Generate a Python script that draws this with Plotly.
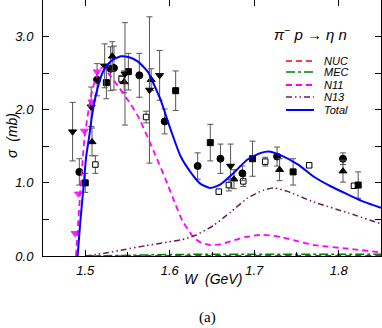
import plotly.graph_objects as go

# model curves (W in GeV, sigma in mb)
w_total = [1.491, 1.494, 1.498, 1.501, 1.505, 1.508, 1.514, 1.521, 1.530, 1.542, 1.551,
           1.562, 1.574, 1.583, 1.589, 1.601, 1.613, 1.625, 1.636, 1.648, 1.660, 1.676,
           1.692, 1.708, 1.717, 1.731, 1.752, 1.771, 1.791, 1.811, 1.830, 1.850]
s_total = [0.0, 0.45, 0.95, 1.35, 1.66, 1.92, 2.27, 2.52, 2.66, 2.73, 2.72,
           2.66, 2.52, 2.30, 2.14, 1.73, 1.36, 1.14, 0.99, 0.93, 0.98, 1.14,
           1.32, 1.41, 1.43, 1.38, 1.25, 1.08, 0.95, 0.84, 0.74, 0.66]

w_n11 = [1.489, 1.491, 1.494, 1.499, 1.504, 1.508, 1.514, 1.520, 1.527, 1.539, 1.550,
         1.562, 1.574, 1.583, 1.595, 1.607, 1.615, 1.628, 1.636, 1.648, 1.660, 1.672,
         1.690, 1.710, 1.731, 1.752, 1.771, 1.811, 1.850]
s_n11 = [0.0, 0.35, 0.85, 1.60, 2.00, 2.25, 2.48, 2.58, 2.50, 2.32, 2.14,
         1.92, 1.62, 1.38, 1.05, 0.70, 0.48, 0.26, 0.19, 0.15, 0.16, 0.20,
         0.26, 0.29, 0.26, 0.20, 0.15, 0.10, 0.05]

w_n13 = [1.500, 1.524, 1.547, 1.571, 1.597, 1.613, 1.630, 1.652, 1.672, 1.692, 1.711,
         1.723, 1.740, 1.770, 1.811, 1.850]
s_n13 = [0.0, 0.04, 0.09, 0.14, 0.19, 0.22, 0.28, 0.42, 0.60, 0.79, 0.90,
         0.93, 0.88, 0.74, 0.59, 0.44]

w_bg = [1.50, 1.55, 1.60, 1.65, 1.70, 1.75, 1.80, 1.85]
s_nuc = [0.0, 0.004, 0.005, 0.005, 0.005, 0.005, 0.005, 0.005]
s_mec = [0.0, 0.015, 0.02, 0.025, 0.025, 0.025, 0.025, 0.025]

# experimental points
circ_w = [1.493, 1.514, 1.530, 1.534, 1.564, 1.594, 1.633, 1.660, 1.686, 1.727, 1.805]
circ_s = [1.15, 2.41, 2.56, 2.57, 2.47, 1.84, 1.23, 1.33, 1.13, 1.36, 1.33]
circ_e = [0.18, 0.22, 0.30, 0.30, 0.30, 0.17, 0.18, 0.20, 0.10, 0.13, 0.08]

sq_w = [1.500, 1.525, 1.551, 1.607, 1.648, 1.698, 1.746, 1.823]
sq_s = [1.00, 2.37, 2.52, 2.26, 1.55, 1.33, 1.15, 0.97]
sq_e = [0.13, 0.22, 0.25, 0.27, 0.25, 0.24, 0.18, 0.18]

tup_w = [1.508, 1.532, 1.546, 1.578, 1.676, 1.730, 1.805]
tup_s = [1.56, 2.73, 2.38, 2.41, 1.05, 1.18, 1.16]
tup_e = [0.19, 0.20, 0.15, 0.15, 0.13, 0.15, 0.15]

tdn_w = [1.485, 1.507, 1.523, 1.547, 1.576, 1.588, 1.672]
tdn_s = [1.70, 2.04, 2.60, 2.49, 2.27, 2.47, 1.23]
tdn_e = [0.40, 0.27, 0.30, 0.70, 1.00, 0.34, 0.30]

osq_w = [1.512, 1.543, 1.572, 1.658, 1.670, 1.687, 1.713, 1.765, 1.818]
osq_s = [1.25, 2.42, 1.90, 0.88, 0.97, 1.02, 1.29, 1.24, 0.96]
osq_e = [0.12, 0.05, 0.08, 0.03, 0.08, 0.07, 0.06, 0.03, 0.03]

mag_w = [1.488, 1.492, 1.499, 1.508, 1.514]
mag_s = [0.31, 0.85, 1.71, 2.11, 2.52]

legend_names = ['NUC', 'MEC', 'N11', 'N13', 'Total']
legend_rows = [61, 72, 85, 97, 110]   # pixel rows of legend entries

N13_DASH = '6px,3px,1.5px,3px,1.5px,3px'
ERR = '#555555'

fig = go.Figure()

def add_points(w, s, e, symbol, color='black', fill='black', size=7):
    fig.add_trace(go.Scatter(
        x=w, y=s, mode='markers',
        error_y=dict(type='data', array=e, color=ERR, thickness=1, width=3) if e else None,
        marker=dict(symbol=symbol, size=size, color=fill, line=dict(color=color, width=1)),
        showlegend=False))

add_points(osq_w, osq_s, osq_e, 'square', fill='white', size=5.5)
add_points(circ_w, circ_s, circ_e, 'circle', size=7)
add_points(sq_w, sq_s, sq_e, 'square', size=6)
add_points(tup_w, tup_s, tup_e, 'triangle-up', size=7)
add_points(tdn_w, tdn_s, tdn_e, 'triangle-down', size=7)
add_points(mag_w, mag_s, None, 'triangle-down', color='#ff22ff', fill='#ff22ff', size=7)

curve_styles = [
    (w_bg, s_nuc, dict(color='#ff0000', width=1.5, dash='6px,4px')),
    (w_bg, s_mec, dict(color='#008000', width=1.5, dash='dashdot')),
    (w_n11, s_n11, dict(color='#ff00ff', width=1.8, dash='6px,4px', shape='spline', smoothing=0.6)),
    (w_n13, s_n13, dict(color='#6e1e4e', width=1.5, dash=N13_DASH, shape='spline', smoothing=0.6)),
    (w_total, s_total, dict(color='#0000ff', width=2, shape='spline', smoothing=0.6)),
]
for (xs, ys, ln), name in zip(curve_styles, legend_names):
    fig.add_trace(go.Scatter(x=xs, y=ys, mode='lines', line=ln, name=name, showlegend=False))

# hand-made legend (compact spacing like the original)
L, R, B, T = 43, 381, 256, 0
def px(x): return (x - L) / (R - L)
def py(y): return (B - y) / (B - T)

for (xs, ys, ln), name, row in zip(curve_styles, legend_names, legend_rows):
    fig.add_shape(type='line', xref='paper', yref='paper',
                  x0=px(286), x1=px(314), y0=py(row), y1=py(row),
                  line=dict(color=ln['color'], width=ln['width'], dash=ln.get('dash', 'solid')))
    fig.add_annotation(xref='paper', yref='paper', x=px(322), y=py(row),
                       text=f'<i>{name}</i>', showarrow=False, xanchor='left', yanchor='middle',
                       font=dict(size=11, color='black'))

def label(x, y, text, size=14, family=None, angle=0):
    font = dict(size=size, color='black')
    if family:
        font['family'] = family
    fig.add_annotation(xref='paper', yref='paper', x=px(x), y=py(y), text=text, textangle=angle,
                       showarrow=False, xanchor='center', yanchor='middle', font=font)

label(310, 33, '<i>π</i><sup>−</sup> <i>p</i> → <i>η n</i>', size=15)
label(12, 136, '<i>σ  (mb)</i>', angle=-90)
label(213, 279, '<i>W  (GeV)</i>')
label(207, 317, '(a)', size=15, family='Liberation Serif, Times New Roman, serif')

axis_common = dict(ticks='inside', ticklen=6, tickcolor='black', showgrid=False, zeroline=False,
                   tickfont=dict(size=13, color='black'))

fig.update_layout(
    width=382, height=328,
    margin=dict(l=L, r=382 - R, t=T, b=328 - B),
    plot_bgcolor='white', paper_bgcolor='white',
    font=dict(family='Liberation Sans, Arial, sans-serif', color='black'),
    showlegend=False,
    xaxis=dict(range=[1.45, 1.85], tickvals=[1.5, 1.6, 1.7, 1.8], ticktext=['<i>1.5</i>', '<i>1.6</i>', '<i>1.7</i>', '<i>1.8</i>'],
               showline=True, linecolor='black', linewidth=1, mirror=False,
               minor=dict(ticks='inside', dtick=0.05, ticklen=4, tickcolor='black'),
               ticklabelstandoff=2, **axis_common),
    xaxis2=dict(range=[1.45, 1.85], overlaying='x', side='top', showticklabels=False,
                tickvals=[1.5, 1.6, 1.7, 1.8], showline=False, **axis_common),
    yaxis=dict(range=[0, 3.5], tickvals=[0, 1, 2, 3], ticktext=['<i>0.0</i>', '<i>1.0</i>', '<i>2.0</i>', '<i>3.0</i>'],
               showline=True, linecolor='black', linewidth=1, mirror='ticks',
               minor=dict(ticks='inside', tickvals=[0.5, 1.5, 2.5], ticklen=6, tickcolor='black'),
               ticklabelstandoff=6, **axis_common),
)
# invisible trace so the top axis is drawn
fig.add_trace(go.Scatter(x=[1.45], y=[0], xaxis='x2', mode='markers', marker=dict(opacity=0),
                         showlegend=False, hoverinfo='skip'))

# the page body has a default 8px margin; drop it so the figure sits at the corner
fig.write_html("out.html", config={'displayModeBar': False},
               post_script="document.body.style.margin='0';")
